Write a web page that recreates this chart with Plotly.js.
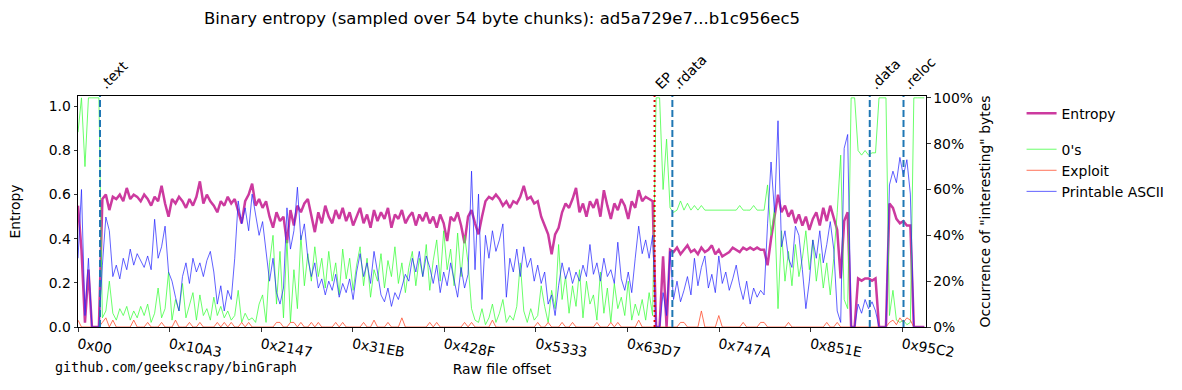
<!DOCTYPE html>
<html><head><meta charset="utf-8">
<script src="https://cdn.plot.ly/plotly-3.0.1.min.js"></script>
<style>html,body{margin:0;padding:0;background:#fff}#chart{width:1182px;height:390px}</style>
</head><body><div id="chart"></div>
<script>
// one plotted point every 3 chunks of 54 bytes
const chunkStep = 162;
const fileSize = 39446;

const entropy = [
0.55,0.35,0.02,0.26,0,0,0,0.58,0.60,0.53,
0.59,0.58,0.60,0.57,0.63,0.58,0.60,0.59,0.57,0.60,
0.58,0.55,0.59,0.57,0.64,0.56,0.50,0.58,0.56,0.59,
0.57,0.54,0.58,0.55,0.59,0.66,0.56,0.60,0.57,0.55,
0.52,0.57,0.55,0.59,0.56,0.58,0.53,0.47,0.57,0.60,
0.65,0.55,0.58,0.54,0.57,0.50,0.45,0.52,0.48,0.50,
0.38,0.53,0.46,0.55,0.52,0.56,0.58,0.50,0.43,0.52,
0.47,0.55,0.50,0.47,0.53,0.49,0.54,0.48,0.52,0.46,
0.50,0.54,0.47,0.51,0.45,0.53,0.48,0.52,0.49,0.54,
0.45,0.51,0.49,0.53,0.47,0.50,0.52,0.46,0.51,0.48,
0.52,0.47,0.50,0.45,0.51,0.47,0.39,0.50,0.48,0.52,
0.46,0.38,0.50,0.53,0.47,0.42,0.50,0.57,0.59,0.58,
0.60,0.58,0.55,0.57,0.54,0.57,0.56,0.59,0.64,0.58,
0.59,0.56,0.57,0.50,0.46,0.42,0.33,0.42,0.45,0.52,
0.56,0.54,0.58,0.63,0.52,0.56,0.50,0.57,0.54,0.58,
0.50,0.62,0.55,0.49,0.56,0.53,0.58,0.55,0.49,0.57,
0.54,0.62,0.57,0.59,0.58,0.57,0,0,0.32,0,
0.35,0.34,0.36,0.33,0.35,0.37,0.34,0.35,0.33,0.36,
0.34,0.35,0.37,0.33,0.35,0.32,0.33,0.34,0.36,0.35,
0.34,0.36,0.35,0.36,0.35,0.36,0.35,0.35,0.28,0.40,
0.50,0.60,0.52,0.55,0.50,0.53,0.47,0.51,0.46,0.50,
0.44,0.49,0.52,0.46,0.54,0.48,0.55,0.50,0.44,0.22,
0.48,0.52,0,0,0.22,0.21,0.22,0.22,0.21,0.22,
0,0,0,0.56,0.54,0.49,0.47,0.48,0.46,0.46,
0,0,0,0
];

const zeros = [
0.85,1.0,0.70,1.0,1.0,1.0,1.0,0.04,0.07,0.20,
0.06,0.03,0.08,0.05,0.09,0.03,0.07,0.04,0.09,0.05,
0.10,0.02,0.06,0.17,0.04,0.08,0.24,0.03,0.12,0.07,
0.19,0.04,0.10,0.15,0.03,0.14,0.05,0.08,0.03,0.13,
0.05,0.09,0.04,0.07,0.03,0.05,0.16,0.02,0.06,0.03,
0.04,0.02,0.10,0.14,0.02,0.28,0.40,0.10,0.33,0.04,
0.38,0.02,0.25,0.08,0.40,0.18,0.32,0.20,0.35,0.22,
0.30,0.17,0.33,0.20,0.28,0.14,0.34,0.21,0.30,0.16,
0.27,0.35,0.18,0.30,0.13,0.25,0.20,0.32,0.17,0.29,
0.22,0.35,0.19,0.28,0.15,0.26,0.33,0.18,0.30,0.22,
0.36,0.16,0.29,0.38,0.20,0.42,0.25,0.34,0.18,0.41,
0.22,0.40,0.28,0.08,0.03,0.02,0.08,0.01,0.04,0.10,
0.02,0.06,0.12,0.02,0.05,0.03,0.09,0.28,0.07,0.02,
0.08,0.03,0.05,0.18,0.09,0.02,0.16,0.08,0.36,0.12,
0.22,0.06,0.18,0.09,0.25,0.04,0.20,0.10,0.14,0.03,
0.24,0.06,0.17,0.02,0.19,0.08,0.13,0.05,0.20,0.03,
0.10,0.05,0.12,0.03,0.15,0.05,1.0,1.0,0.60,0.82,
0.52,0.50,0.51,0.55,0.51,0.54,0.51,0.53,0.51,0.53,
0.51,0.51,0.51,0.51,0.51,0.51,0.51,0.51,0.51,0.51,
0.53,0.51,0.51,0.51,0.53,0.51,0.51,0.51,0.62,0.40,
0.52,0.08,0.42,0.20,0.33,0.18,0.36,0.22,0.30,0.42,
0.25,0.38,0.20,0.32,0.17,0.28,0.14,0.30,0.50,0.75,
0.12,0.08,1.0,1.0,0.77,0.75,0.77,0.75,0.76,0.76,
1.0,1.0,1.0,0.05,0.16,0.03,0.02,0.03,0.01,0.02,
1.0,1.0,1.0,1.0
];

const exploit = [
0.03,0,0,0,0,0,0,0.02,0.04,0,
0.03,0,0,0,0,0,0.03,0,0,0,
0.02,0,0,0,0.02,0,0,0,0.03,0,
0,0,0.02,0,0,0.02,0,0,0,0,
0.02,0,0.02,0,0.02,0,0,0.02,0,0.02,
0,0,0,0,0,0,0,0.02,0.02,0,
0,0.02,0.02,0,0.02,0,0,0.02,0,0.02,
0,0,0,0,0.02,0,0.02,0,0,0,
0,0,0.02,0,0,0.03,0,0,0,0.02,
0,0,0,0.04,0,0,0,0,0,0,
0,0.02,0,0.02,0,0,0,0,0,0,
0,0.02,0,0.02,0,0,0,0,0,0.03,
0,0,0,0,0,0,0,0,0,0,
0,0,0.02,0,0,0.02,0,0,0,0.02,
0,0,0.02,0,0,0,0,0,0,0.02,
0,0,0,0.02,0,0.02,0,0,0,0,
0,0.03,0,0,0,0,0,0,0,0,
0,0,0,0.02,0.02,0,0,0,0,0.07,
0,0,0,0,0.05,0,0,0,0,0,
0,0.02,0,0,0,0,0.02,0.02,0,0,
0,0,0,0,0.02,0,0,0,0,0,
0,0,0,0,0,0.02,0,0,0.02,0,
0,0,0,0,0,0,0,0,0,0,
0,0,0,0.02,0.03,0.01,0.04,0.02,0.04,0.03,
0,0,0,0
];

const ascii = [
0.30,0.60,0.05,0.30,0,0,0,0.27,0.48,0.42,
0.22,0.27,0.21,0.30,0.25,0.34,0.27,0.32,0.29,0.26,
0.31,0.25,0.47,0.30,0.35,0.44,0.24,0.20,0.13,0.07,
0.22,0.28,0.19,0.30,0.24,0.28,0.22,0.29,0.33,0.24,
0.10,0.18,0.07,0.16,0.12,0.30,0.55,0.45,0.52,0.42,
0.58,0.48,0.40,0.46,0.32,0.20,0.30,0.15,0.10,0.17,
0.52,0.34,0.42,0.61,0.38,0.45,0.30,0.22,0.28,0.17,
0.21,0.14,0.20,0.16,0.23,0.13,0.19,0.15,0.21,0.12,
0.24,0.32,0.22,0.28,0.19,0.33,0.24,0.14,0.11,0.17,
0.09,0.15,0.12,0.18,0.23,0.20,0.30,0.24,0.33,0.22,
0.31,0.26,0.19,0.27,0.15,0.24,0.18,0.28,0.20,0.13,
0.26,0.17,0.23,0.68,0.25,0.58,0.12,0.40,0.30,0.42,
0.33,0.38,0.45,0.13,0.30,0.24,0.34,0.22,0.35,0.26,
0.30,0.20,0.27,0.19,0.24,0.10,0.14,0.05,0.18,0.28,
0.21,0.26,0.19,0.24,0.20,0.27,0.22,0.36,0.23,0.28,
0.20,0.30,0.22,0.25,0.19,0.37,0.21,0.16,0.24,0.15,
0.30,0.44,0.32,0.38,0.30,0.40,0,0,0.15,0.05,
0.33,0.12,0.20,0.11,0.16,0.22,0.14,0.30,0.18,0.26,
0.31,0.17,0.23,0.15,0.31,0.19,0.24,0.16,0.21,0.27,
0.18,0.12,0.20,0.10,0.17,0.13,0.16,0.14,0.45,0.72,
0.50,0.90,0.35,0.42,0.30,0.26,0.44,0.40,0.25,0.08,
0.20,0.38,0.30,0.42,0.28,0.36,0.46,0.34,0.07,0.02,
0.78,0.84,0,0,0.10,0.06,0.12,0.08,0.11,0.07,
0,0,0,0.62,0.68,0.63,0.74,0.66,0.73,0.58,
0,0,0,0
];

const offsets = entropy.map((_, i) => i * chunkStep);

const tickOffsets = [0, 4259, 8519, 12779, 17039, 21299, 25559, 29818, 34078, 38338];
const tickLabels = ['0x00','0x10A3','0x2147','0x31EB','0x428F','0x5333','0x63D7','0x747A','0x851E','0x95C2'];
const leftTicks = [0, 0.2, 0.4, 0.6, 0.8, 1.0];
const rightTicks = [0, 0.2, 0.4, 0.6, 0.8, 1.0];
const rightLabels = ['0%','20%','40%','60%','80%','100%'];

const sectionNames = ['.text', 'EP', '.rdata', '.data', '.reloc'];
const sectionOffsets = [1024, 26820, 27648, 36830, 38400];
const sectionIsEP = [false, true, false, false, false];

const FONT = 'DejaVu Sans';
const FS = 13.9;

const traces = [
  {x: offsets, y: entropy, type: 'scatter', mode: 'lines', name: 'Entropy',
   line: {color: '#cc3a9f', width: 2.5}, legendgroup: 'e', hoverinfo: 'skip'},
  {x: offsets, y: zeros, type: 'scatter', mode: 'lines', name: "0's", yaxis: 'y2',
   line: {color: 'rgba(60,255,60,0.85)', width: 0.9}, legendgroup: 'o', hoverinfo: 'skip'},
  {x: offsets, y: exploit, type: 'scatter', mode: 'lines', name: 'Exploit', yaxis: 'y2',
   line: {color: 'rgba(255,80,50,0.9)', width: 0.9}, legendgroup: 'o', hoverinfo: 'skip'},
  {x: offsets, y: ascii, type: 'scatter', mode: 'lines', name: 'Printable ASCII', yaxis: 'y2',
   line: {color: 'rgba(35,35,255,0.8)', width: 0.9}, legendgroup: 'o', hoverinfo: 'skip'}
];

const shapes = sectionOffsets.map((o, i) => ({
  type: 'line', xref: 'x', yref: 'paper', x0: o, x1: o, y0: 0, y1: 1,
  line: sectionIsEP[i] ? {color: '#e00000', width: 2, dash: '2px,3px'}
                       : {color: '#1f77b4', width: 2, dash: '7px,3px'}
}));

const annotations = sectionOffsets.map((o, i) => ({
  x: o, xref: 'x', y: 1, yref: 'paper', text: sectionNames[i], showarrow: false,
  textangle: -45, xanchor: 'left', yanchor: 'bottom', xshift: -6, yshift: 1,
  font: {family: FONT, size: FS, color: '#000'}
}));
annotations.push({
  x: -0.0294, xref: 'paper', y: -0.176, yref: 'paper', xanchor: 'left', yanchor: 'middle',
  text: 'github.com/geekscrapy/binGraph', showarrow: false,
  font: {family: 'DejaVu Sans Mono', size: 13.4, color: '#000'}
});

const axisCommon = {
  ticks: 'outside', ticklen: 3.5, tickwidth: 0.8, tickcolor: '#000',
  showline: true, linecolor: '#000', linewidth: 1, showgrid: false, zeroline: false,
  tickfont: {family: FONT, size: FS, color: '#000'}
};

const layout = {
  width: 1182, height: 390,
  margin: {l: 78, r: 254, t: 96, b: 63, pad: 0},
  paper_bgcolor: '#fff', plot_bgcolor: '#fff',
  font: {family: FONT, size: FS, color: '#000'},
  title: {text: 'Binary entropy (sampled over 54 byte chunks): ad5a729e7...b1c956ec5',
          x: 0.5, xref: 'paper', xanchor: 'center', y: 0.954, yref: 'container', yanchor: 'middle',
          font: {family: FONT, size: 16.5, color: '#000'}},
  xaxis: Object.assign({}, axisCommon, {
    range: [0, fileSize], tickmode: 'array', tickvals: tickOffsets, ticktext: tickLabels,
    tickangle: 10, mirror: true,
    title: {text: 'Raw file offset', standoff: 4, font: {family: FONT, size: FS, color: '#000'}}
  }),
  yaxis: Object.assign({}, axisCommon, {
    range: [0, 1.047], tickmode: 'array', tickvals: leftTicks, tickformat: '.1f', mirror: true,
    title: {text: 'Entropy', standoff: 24, font: {family: FONT, size: FS, color: '#000'}}
  }),
  yaxis2: Object.assign({}, axisCommon, {
    overlaying: 'y', side: 'right', range: [0, 1.008], tickmode: 'array',
    tickvals: rightTicks, ticktext: rightLabels,
    title: {text: 'Occurrence of "interesting" bytes', standoff: 8, font: {family: FONT, size: FS, color: '#000'}}
  }),
  legend: {x: 1.1127, xanchor: 'left', y: 0.993, yanchor: 'top', tracegroupgap: 15,
           bgcolor: 'rgba(0,0,0,0)', font: {family: FONT, size: FS, color: '#000'}},
  showlegend: true,
  shapes: shapes,
  annotations: annotations
};

Plotly.newPlot('chart', traces, layout, {displayModeBar: false, staticPlot: true});
</script>
</body></html>
